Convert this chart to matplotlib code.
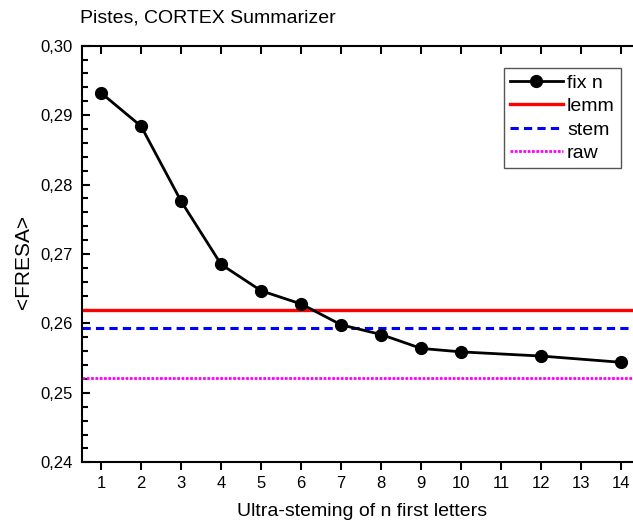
import matplotlib.pyplot as plt
from matplotlib.ticker import MultipleLocator, FuncFormatter

plt.rcParams['font.family'] = ['Liberation Sans', 'DejaVu Sans']

# valeurs
n_letters = [1, 2, 3, 4, 5, 6, 7, 8, 9, 10, 12, 14]
fresa_fix = [0.2932, 0.2884, 0.2776, 0.2685, 0.2647, 0.2628, 0.2598, 0.2584, 0.2564, 0.2559, 0.2553, 0.2544]
fresa_lemm = 0.2619
fresa_stem = 0.2593
fresa_raw = 0.2521

fig = plt.figure(figsize=(6.33, 5.27), dpi=100)
ax = fig.add_axes([0.130, 0.1228, 0.883, 0.7905])

ax.plot(n_letters, fresa_fix, color='black', lw=2, marker='o', ms=8.5, label='fix n', zorder=5)
ax.axhline(fresa_lemm, color='red', lw=2.4, label='lemm')
ax.axhline(fresa_stem, color='blue', lw=2.2, ls=(0, (2.7, 1.7)), label='stem')
ax.axhline(fresa_raw, color='magenta', lw=2, ls=(0, (1, 0.55)), label='raw')

ax.set_xlim(0.53, 14.5)
ax.set_ylim(0.24, 0.30)
ax.set_xticks(range(1, 15))
ax.yaxis.set_major_locator(MultipleLocator(0.01))
ax.yaxis.set_minor_locator(MultipleLocator(0.002))
ax.yaxis.set_major_formatter(FuncFormatter(lambda v, p: f"{v:.2f}".replace('.', ',')))

ax.spines['right'].set_visible(False)
for s in ax.spines.values():
    s.set_linewidth(1.5)
ax.tick_params(axis='y', direction='in', length=6, width=1.5, labelsize=12, pad=7, left=True, right=False)
ax.tick_params(axis='y', which='minor', direction='in', length=4, width=1.5)
ax.tick_params(axis='x', direction='out', length=6, width=1.5, labelsize=12, top=True, pad=4)
for t in ax.xaxis.get_major_ticks():
    t.tick2line.set_marker(3)  # tick vers l'interieur en haut
    t.tick2line.set_markersize(6)
    t.tick2line.set_markeredgewidth(1.5)

ax.set_xlabel('Ultra-steming of n first letters', fontsize=14, va='top')
ax.xaxis.set_label_coords(0.5, -0.097)
ax.set_ylabel('<FRESA>', fontsize=15, va='center')
ax.yaxis.set_label_coords(-0.105, 0.48)
fig.text(0.127, 0.966, 'Pistes, CORTEX Summarizer', fontsize=14, ha='left', va='center')

leg = ax.legend(loc='upper right', bbox_to_anchor=(0.963, 0.946), fontsize=14, handlelength=2.7,
                handletextpad=0.22, borderpad=0.3, labelspacing=0.3, fancybox=False, framealpha=1,
                borderaxespad=0)
leg.get_frame().set_edgecolor('#555555')
leg.get_frame().set_linewidth(1)

fig.savefig('out.png', dpi=100)
